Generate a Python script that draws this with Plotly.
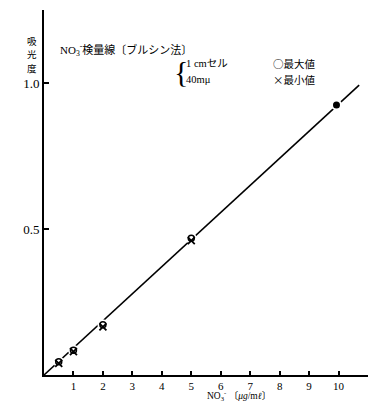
import plotly.graph_objects as go

# NO3- calibration curve (brucine method), absorbance vs concentration
conc = [0.5, 1, 2, 5]
abs_max = [0.045, 0.085, 0.172, 0.468]
abs_min = [0.040, 0.080, 0.165, 0.460]
conc_top = [9.93]
abs_top = [0.925]
fit_x = [0, 10.7]
fit_y = [0, 0.993]

x_ticks = [1, 2, 3, 4, 5, 6, 7, 8, 9, 10]
y_ticks = [0.5, 1.0]
y_tick_text = ["0.5", "1.0"]
y_title_chars = ["吸", "光", "度"]

X_MAX, Y_MAX = 11, 1.25
FONT = "Liberation Serif, Noto Sans CJK JP, serif"
JP = "Noto Sans CJK JP, sans-serif"

fig = go.Figure()

fig.add_trace(go.Scatter(
    x=fit_x, y=fit_y, mode="lines",
    line=dict(color="black", width=1.6), hoverinfo="skip", showlegend=False))

# white halos break the line around each measured point
fig.add_trace(go.Scatter(
    x=conc + conc_top, y=abs_max + abs_top, mode="markers",
    marker=dict(symbol="circle", size=11, color="white", line=dict(width=0)),
    hoverinfo="skip", showlegend=False))

fig.add_trace(go.Scatter(
    x=conc, y=abs_max, mode="markers", name="最大値",
    marker=dict(symbol="circle-open", size=6, color="black", line=dict(width=1.5)),
    showlegend=False))
fig.add_trace(go.Scatter(
    x=conc, y=abs_min, mode="markers", name="最小値",
    marker=dict(symbol="x-thin-open", size=7, color="black", line=dict(width=1.8)),
    showlegend=False))
fig.add_trace(go.Scatter(
    x=conc_top, y=abs_top, mode="markers",
    marker=dict(symbol="circle", size=7, color="black"),
    showlegend=False))


def note(x, y, text, size, family=FONT, xanchor="left"):
    # positions given in data units, placed on paper so they are never clipped
    return dict(x=x / X_MAX, y=y / Y_MAX, xref="paper", yref="paper",
                text=text, showarrow=False, xanchor=xanchor, yanchor="middle",
                font=dict(size=size, family=family, color="black"))


annotations = [
    note(0.47, 1.113, "NO<sub>3</sub><sup>-</sup>検量線〔ブルシン法〕", 11),
    note(4.35, 1.04, "{", 30, "Liberation Serif"),
    note(4.75, 1.066, "1 cmセル", 10.5),
    note(4.75, 1.011, "40mμ", 10.5),
    note(7.72, 1.066, "○最大値", 10.5, JP),
    note(7.72, 1.011, "×最小値", 10.5, JP),
    note(5.47, -0.071, "NO<sub>3</sub><sup>-</sup> 〔<i>μg</i>/m<i>ℓ</i>〕", 9.5),
]
# vertical axis title, one character per row
for i, ch in enumerate(y_title_chars):
    annotations.append(note(-0.42, 1.145 - i * 0.046, ch, 9.5, JP, xanchor="center"))
fig.update_layout(annotations=annotations)

fig.update_layout(
    width=368, height=403,
    margin=dict(l=44, r=0, t=10, b=28),
    paper_bgcolor="white", plot_bgcolor="white",
    font=dict(family=FONT, color="black"),
    xaxis=dict(range=[0, X_MAX], tickvals=x_ticks, ticks="inside", ticklen=4,
               tickwidth=1.5, tickcolor="black", showgrid=False, zeroline=False,
               showline=True, linecolor="black", linewidth=2, ticklabelstandoff=0,
               tickfont=dict(size=11, family=FONT, color="black")),
    yaxis=dict(range=[0, Y_MAX], tickvals=y_ticks, ticktext=y_tick_text,
               ticks="inside", ticklen=5, tickwidth=1.5, tickcolor="black",
               showgrid=False, zeroline=False, showline=True, linecolor="black",
               linewidth=2, tickfont=dict(size=13, family=FONT, color="black")),
)

fig.write_html("out.html")
